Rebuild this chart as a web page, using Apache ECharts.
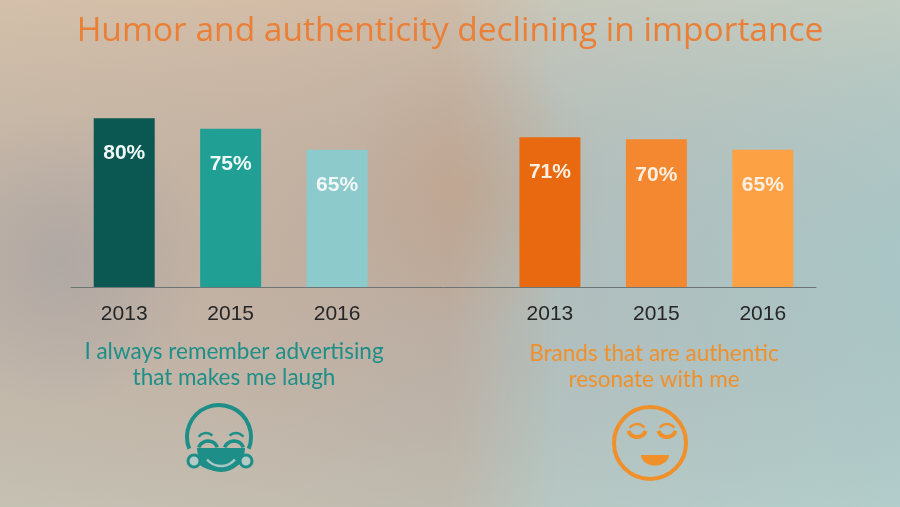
<!DOCTYPE html>
<html>
<head>
<meta charset="utf-8">
<script src="https://cdn.jsdelivr.net/npm/echarts@6/dist/echarts.min.js"></script>
<style>
html,body{margin:0;padding:0;width:900px;height:507px;overflow:hidden;}
#chart{width:900px;height:507px;}
</style>
</head>
<body>
<div id="chart"></div>
<script>
// ---- data ----
const titleText = 'Humor and authenticity declining in importance';
const categories = ['2013', '2015', '2016', '', '2013', '2015', '2016'];
const humorValues = [80, 75, 65, null, null, null, null];
const authenticValues = [null, null, null, null, 71, 70, 65];
const humorCaption = ['I always remember advertising', 'that makes me laugh'];
const authenticCaption = ['Brands that are authentic', 'resonate with me'];

// ---- styles ----
const humorColors = ['#0b5752', '#20a095', '#8ccacb'];
const authColors = ['#e8690f', '#f38831', '#fca245'];
const teal = '#1d8e88';
const orange = '#f0902a';

function colorFor(arr, offset) {
  return function (p) { return arr[p.dataIndex - offset] || '#000'; };
}

const chart = echarts.init(document.getElementById('chart'));

const bg = new echarts.graphic.LinearGradient(0, 0, 1, 0, [
  { offset: 0, color: '#c8b7a4' },
  { offset: 0.3, color: '#c6b2a0' },
  { offset: 0.5, color: '#bfae9f' },
  { offset: 0.62, color: '#b3c2bf' },
  { offset: 1, color: '#abcac9' }
]);

const graphics = [
  // soft overlays to mimic the photo tint
  { type: 'rect', z: -10, shape: { x: 0, y: 0, width: 900, height: 507 },
    style: { fill: new echarts.graphic.LinearGradient(0, 0, 0, 1, [
      { offset: 0, color: 'rgba(235,210,180,0.35)' },
      { offset: 0.5, color: 'rgba(160,160,170,0.10)' },
      { offset: 1, color: 'rgba(190,210,205,0.35)' }
    ]) } },
  { type: 'circle', z: -9, shape: { cx: 470, cy: 190, r: 140 },
    style: { fill: new echarts.graphic.RadialGradient(0.5, 0.5, 0.5, [
      { offset: 0, color: 'rgba(195,150,115,0.35)' },
      { offset: 1, color: 'rgba(195,150,115,0)' }
    ]) } },
  { type: 'circle', z: -9, shape: { cx: 60, cy: 260, r: 150 },
    style: { fill: new echarts.graphic.RadialGradient(0.5, 0.5, 0.5, [
      { offset: 0, color: 'rgba(130,140,165,0.30)' },
      { offset: 1, color: 'rgba(130,140,165,0)' }
    ]) } },
  // captions
  { type: 'text', style: { text: humorCaption.join('\n'), x: 234, y: 339, textAlign: 'center', textVerticalAlign: 'top',
      fontFamily: 'Lato', fontSize: 22.5, lineHeight: 26, fill: teal } },
  { type: 'text', style: { text: authenticCaption.join('\n'), x: 654, y: 341, textAlign: 'center', textVerticalAlign: 'top',
      fontFamily: 'Lato', fontSize: 22.5, lineHeight: 26, fill: orange } },

  // laughing emoji
  { type: 'arc', shape: { cx: 219, cy: 437, r: 32, startAngle: Math.PI * 0.88, endAngle: Math.PI * 2.12 },
    style: { stroke: teal, lineWidth: 4, fill: 'none' } },
  { type: 'arc', shape: { cx: 219, cy: 437, r: 32, startAngle: Math.PI * 0.28, endAngle: Math.PI * 0.72 },
    style: { stroke: teal, lineWidth: 4, fill: 'none' } },
  { type: 'arc', shape: { cx: 206, cy: 442, r: 9, startAngle: Math.PI * 1.2, endAngle: Math.PI * 1.75 },
    style: { stroke: teal, lineWidth: 2.5, fill: 'none' } },
  { type: 'arc', shape: { cx: 236, cy: 442, r: 9, startAngle: Math.PI * 1.25, endAngle: Math.PI * 1.8 },
    style: { stroke: teal, lineWidth: 2.5, fill: 'none' } },
  { type: 'arc', shape: { cx: 208, cy: 451, r: 10, startAngle: Math.PI * 1.12, endAngle: Math.PI * 1.88 },
    style: { stroke: teal, lineWidth: 3.5, fill: 'none' } },
  { type: 'arc', shape: { cx: 234, cy: 451, r: 10, startAngle: Math.PI * 1.12, endAngle: Math.PI * 1.88 },
    style: { stroke: teal, lineWidth: 3.5, fill: 'none' } },
  { type: 'sector', shape: { cx: 221, cy: 448, r0: 0, r: 24, startAngle: 0, endAngle: Math.PI },
    style: { fill: teal } },
  { type: 'arc', shape: { cx: 221, cy: 448, r: 18, startAngle: Math.PI * 0.22, endAngle: Math.PI * 0.78 },
    style: { stroke: '#a9c8c4', lineWidth: 2.5, fill: 'none' } },
  { type: 'circle', shape: { cx: 194, cy: 461, r: 6 }, style: { fill: '#b5c9c6', stroke: teal, lineWidth: 3 } },
  { type: 'circle', shape: { cx: 246, cy: 461, r: 6 }, style: { fill: '#b5c9c6', stroke: teal, lineWidth: 3 } },

  // relieved emoji
  { type: 'circle', shape: { cx: 650, cy: 443, r: 36 }, style: { stroke: orange, lineWidth: 4, fill: 'none' } },
  { type: 'arc', shape: { cx: 637, cy: 433, r: 9, startAngle: Math.PI * 1.2, endAngle: Math.PI * 1.8 },
    style: { stroke: orange, lineWidth: 2.5, fill: 'none' } },
  { type: 'arc', shape: { cx: 667, cy: 433, r: 9, startAngle: Math.PI * 1.2, endAngle: Math.PI * 1.8 },
    style: { stroke: orange, lineWidth: 2.5, fill: 'none' } },
  { type: 'arc', shape: { cx: 637, cy: 428, r: 9, startAngle: Math.PI * 0.1, endAngle: Math.PI * 0.9 },
    style: { stroke: orange, lineWidth: 4, fill: 'none' } },
  { type: 'arc', shape: { cx: 667, cy: 428, r: 9, startAngle: Math.PI * 0.1, endAngle: Math.PI * 0.9 },
    style: { stroke: orange, lineWidth: 4, fill: 'none' } },
  { type: 'sector', shape: { cx: 655, cy: 455, r0: 0, r: 14, startAngle: 0, endAngle: Math.PI },
    scaleY: 0.75, originX: 655, originY: 455, style: { fill: orange } }
];

const labelBase = { show: true, position: 'insideTop', distance: 25, fontFamily: 'Liberation Sans', fontSize: 21, fontWeight: 'bold', formatter: '{c}%' };

chart.setOption({
  backgroundColor: bg,
  animation: false,
  title: {
    text: titleText, left: 'center', top: 9,
    textStyle: { fontFamily: 'Open Sans', fontWeight: 400, fontSize: 33.5, color: '#ea7f35' }
  },
  grid: { left: 71, right: 84, top: 76, bottom: 220 },
  xAxis: {
    type: 'category', data: categories,
    axisLine: { lineStyle: { color: '#6d7676', width: 1 } },
    axisTick: { show: false },
    axisLabel: { color: '#262626', fontFamily: 'Liberation Sans', fontSize: 21, margin: 17, interval: 0 }
  },
  yAxis: { type: 'value', min: 0, max: 100, show: false, splitLine: { show: false } },
  series: [
    { type: 'bar', data: humorValues, barWidth: 61, barGap: '-100%',
      itemStyle: { color: colorFor(humorColors, 0) },
      label: Object.assign({}, labelBase, { color: '#f0f9f7' }) },
    { type: 'bar', data: authenticValues, barWidth: 61, barGap: '-100%',
      itemStyle: { color: colorFor(authColors, 4) },
      label: Object.assign({}, labelBase, { color: '#fdf0e2' }) }
  ],
  graphic: graphics
});
</script>
</body>
</html>
